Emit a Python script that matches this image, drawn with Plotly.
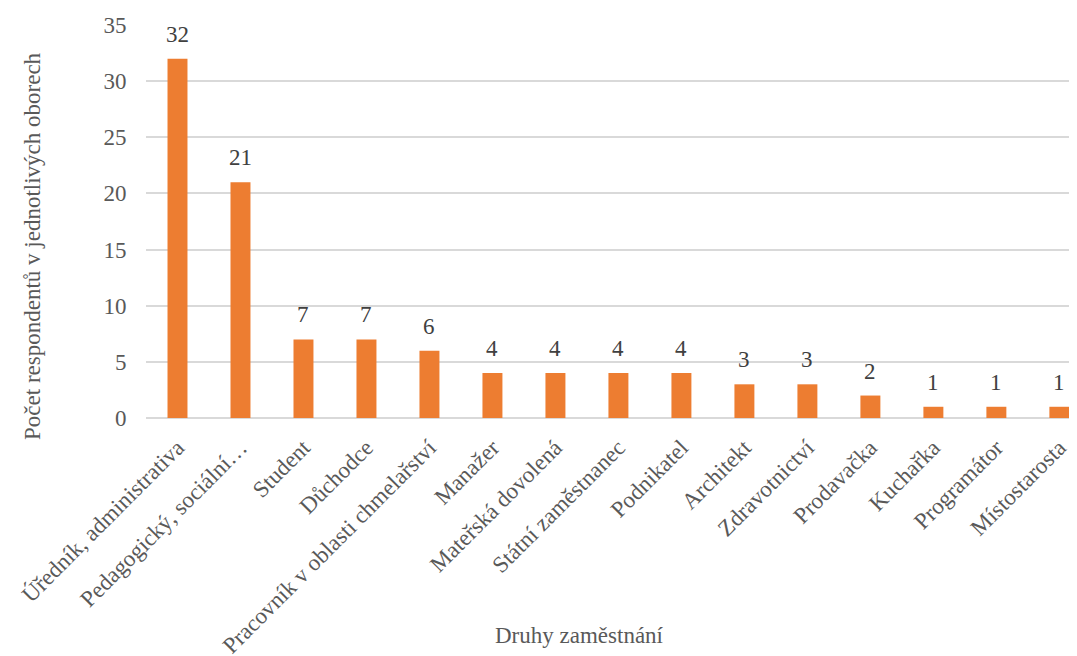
import plotly.graph_objects as go

categories = ["Úředník, administrativa", "Pedagogický, sociální…", "Student", "Důchodce",
              "Pracovník v oblasti chmelařství", "Manažer", "Mateřská dovolená",
              "Státní zaměstnanec", "Podnikatel", "Architekt", "Zdravotnictví",
              "Prodavačka", "Kuchařka", "Programátor", "Místostarosta"]
values = [32, 21, 7, 7, 6, 4, 4, 4, 4, 3, 3, 2, 1, 1, 1]
y_ticks = [0, 5, 10, 15, 20, 25, 30, 35]

FONT = "Liberation Serif"
FS = 23

fig = go.Figure(go.Bar(
    x=categories, y=values,
    marker=dict(color="#ED7D31", line=dict(width=0)),
    width=0.317,
    hoverinfo="x+y",
))

label_annotations = [
    dict(x=c, y=v, xref="x", yref="y", text=str(v), showarrow=False,
         xanchor="center", yanchor="bottom", yshift=10,
         font=dict(family=FONT, size=FS, color="#404040"))
    for c, v in zip(categories, values)
]

fig.update_layout(
    width=1069, height=648,
    margin=dict(l=138, r=0, t=17, b=238, autoexpand=False),
    plot_bgcolor="white", paper_bgcolor="white",
    showlegend=False,
    font=dict(family=FONT, color="#595959"),
    xaxis=dict(
        range=[-0.5, 14.28],
        tickangle=-45,
        tickfont=dict(family=FONT, size=FS, color="#595959"),
        showgrid=False, showline=False,
        ticks="outside", ticklen=6, tickcolor="rgba(0,0,0,0)", automargin=False,
    ),
    yaxis=dict(
        range=[0, 35],
        tickvals=y_ticks,
        tickfont=dict(family=FONT, size=FS, color="#595959"),
        showgrid=True, gridcolor="#d9d9d9", gridwidth=1.5,
        zeroline=True, zerolinecolor="#d9d9d9", zerolinewidth=1.5,
        ticks="outside", ticklen=14, tickcolor="rgba(0,0,0,0)",
        showline=False, automargin=False,
    ),
    annotations=label_annotations + [
        dict(text="Počet respondentů v jednotlivých oborech", textangle=-90,
             xref="paper", yref="paper", x=-0.1214, y=0.4377,
             xanchor="center", yanchor="middle", showarrow=False,
             font=dict(family=FONT, size=FS, color="#595959")),
        dict(text="Druhy zaměstnání",
             xref="paper", yref="paper", x=0.466, y=-0.5547,
             xanchor="center", yanchor="middle", showarrow=False,
             font=dict(family=FONT, size=FS, color="#595959")),
    ],
)

fig.write_html("out.html")
